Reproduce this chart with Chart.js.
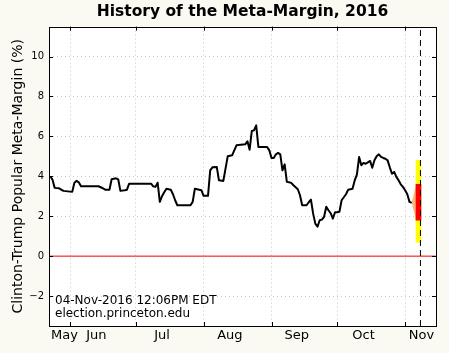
<!DOCTYPE html>
<html>
<head>
<meta charset="utf-8">
<script src="https://cdn.jsdelivr.net/npm/chart.js@4.4.0/dist/chart.umd.min.js"></script>
<style>
  html, body { margin: 0; padding: 0; background: #fbfaf2; }
  #wrap { width: 449px; height: 353px; }
</style>
</head>
<body>
<div id="wrap"><canvas id="metaChart" width="449" height="353"></canvas></div>
<script>
// Meta-Margin history, 2016 (Clinton minus Trump, percent)
const dates = [
  '5/23', '5/24', '5/25', '5/27', '5/29', '6/2', '6/3', '6/4', '6/5', '6/6',
  '6/14', '6/15', '6/16', '6/17', '6/19', '6/20', '6/22', '6/23', '6/24', '6/26',
  '6/27', '6/28', '7/8', '7/9', '7/10', '7/11', '7/12', '7/13', '7/14', '7/15',
  '7/17', '7/18', '7/19', '7/20', '7/26', '7/27', '7/28', '7/30', '7/31', '8/1',
  '8/3', '8/4', '8/5', '8/7', '8/8', '8/10', '8/12', '8/14', '8/16', '8/20',
  '8/21', '8/22', '8/23', '8/24', '8/25', '8/26', '8/30', '8/31', '9/1', '9/2',
  '9/3', '9/4', '9/5', '9/6', '9/7', '9/8', '9/9', '9/10', '9/11', '9/12',
  '9/13', '9/14', '9/15', '9/17', '9/18', '9/19', '9/20', '9/21', '9/22', '9/23',
  '9/24', '9/25', '9/26', '9/27', '9/28', '9/29', '9/30', '10/1', '10/2', '10/3',
  '10/4', '10/5', '10/6', '10/8', '10/9', '10/10', '10/11', '10/12', '10/13', '10/14',
  '10/15', '10/16', '10/17', '10/18', '10/19', '10/20', '10/21', '10/22', '10/23', '10/24',
  '10/25', '10/26', '10/27', '10/28', '10/29', '10/30', '10/31', '11/1', '11/2', '11/3',
  '11/4'
];
const margins = [
  4.0, 3.83, 3.42, 3.4, 3.27, 3.22, 3.68, 3.77, 3.7, 3.5,
  3.5, 3.45, 3.4, 3.33, 3.33, 3.85, 3.9, 3.85, 3.27, 3.3,
  3.33, 3.63, 3.63, 3.5, 3.47, 3.68, 2.72, 3.0, 3.2, 3.38,
  3.33, 3.1, 2.8, 2.55, 2.55, 2.72, 3.38, 3.33, 3.3, 3.02,
  3.02, 4.3, 4.45, 4.47, 3.8, 3.77, 5.0, 5.05, 5.55, 5.6,
  5.75, 5.33, 6.27, 6.3, 6.55, 5.47, 5.47, 5.3, 4.92, 4.92,
  5.1, 5.17, 5.1, 4.3, 4.6, 3.72, 3.7, 3.67, 3.55, 3.45,
  3.35, 3.05, 2.55, 2.55, 2.7, 2.83, 2.13, 1.63, 1.47, 1.8,
  1.83, 1.97, 2.47, 2.3, 2.15, 1.88, 2.2, 2.2, 2.22, 2.8,
  2.95, 3.1, 3.33, 3.38, 3.8, 4.1, 4.97, 4.55, 4.67, 4.63,
  4.7, 4.77, 4.43, 4.8, 5.0, 5.1, 4.97, 4.92, 4.88, 4.8,
  4.45, 4.13, 4.22, 3.97, 3.8, 3.6, 3.47, 3.3, 3.1, 2.72,
  2.67
];

// election-day forecast bands
const band95 = [0.7, 4.8];   // yellow
const band68 = [1.8, 3.6];   // red
const electionDate = '11/8';

const yTicks = [-2, 0, 2, 4, 6, 8, 10];
const monthStarts = ['6/1', '7/1', '8/1', '9/1', '10/1', '11/1'];
const monthLabels = ['May', 'Jun', 'Jul', 'Aug', 'Sep', 'Oct', 'Nov'];
const monthLabelDays = [150.5, 165, 195, 226, 256.5, 287, 313.5];

const xStart = 143.4, xEnd = 320.1;
const yMin = -3.5, yMax = 11.5;
const stampLines = ['04-Nov-2016 12:06PM EDT', 'election.princeton.edu'];

function dayOfYear(s) {
  const [m, d] = s.split('/').map(Number);
  return (Date.UTC(2016, m - 1, d) - Date.UTC(2016, 0, 1)) / 864e5 + 1;
}

const electionDay = dayOfYear(electionDate);
const bandDay = electionDay - 0.9;
const bandLeft = bandDay - 1.1;
const lastDay = dayOfYear(dates[dates.length - 1]);
const lastVal = margins[margins.length - 1];

Chart.defaults.font.family = 'DejaVu Sans';
Chart.defaults.color = '#000';

const framePlugin = {
  id: 'frame',
  beforeDraw(chart) {
    const {ctx, chartArea: a} = chart;
    ctx.save();
    ctx.fillStyle = '#ffffff';
    ctx.fillRect(a.left, a.top, a.right - a.left, a.bottom - a.top);
    ctx.restore();
  },
  afterDatasetsDraw(chart) {
    const {ctx, chartArea: a, scales} = chart;
    ctx.save();
    ctx.strokeStyle = '#000';
    ctx.lineWidth = 1;
    ctx.beginPath();
    yTicks.forEach(v => {
      const p = Math.round(scales.y.getPixelForValue(v)) + 0.5;
      ctx.moveTo(a.left, p); ctx.lineTo(a.left + 4, p);
      ctx.moveTo(a.right, p); ctx.lineTo(a.right - 4, p);
    });
    monthStarts.forEach(d => {
      const p = Math.round(scales.x.getPixelForValue(dayOfYear(d))) + 0.5;
      ctx.moveTo(p, a.bottom); ctx.lineTo(p, a.bottom - 4);
      ctx.moveTo(p, a.top); ctx.lineTo(p, a.top + 4);
    });
    ctx.stroke();
    ctx.strokeRect(Math.round(a.left) + 0.5, Math.round(a.top) + 0.5,
      Math.round(a.right - a.left), Math.round(a.bottom - a.top));
    ctx.fillStyle = '#000';
    ctx.font = '12px "DejaVu Sans"';
    ctx.textBaseline = 'alphabetic';
    ctx.textAlign = 'left';
    ctx.fillText(stampLines[0], a.left + 6, a.bottom - 22);
    ctx.fillText(stampLines[1], a.left + 6, a.bottom - 9);
    ctx.restore();
  }
};

const ctx = document.getElementById('metaChart').getContext('2d');
new Chart(ctx, {
  type: 'line',
  data: {
    datasets: [
      {
        label: 'Election day',
        data: [{x: electionDay, y: yMin}, {x: electionDay, y: yMax}],
        borderColor: '#000', borderWidth: 1, borderDash: [6, 4],
        pointRadius: 0, order: 0
      },
      {
        label: 'Meta-Margin',
        data: dates.map((d, i) => ({x: dayOfYear(d), y: margins[i]})),
        borderColor: '#000', borderWidth: 2, pointRadius: 0, tension: 0,
        borderJoinStyle: 'round', order: 1
      },
      {
        type: 'bar', label: '68%',
        data: [{x: bandDay, y: band68}],
        backgroundColor: '#ff0000', barThickness: 5, grouped: false, order: 2
      },
      {
        type: 'bar', label: '95%',
        data: [{x: bandDay, y: band95}],
        backgroundColor: '#ffff00', barThickness: 5, grouped: false, order: 3
      },
      {
        label: 'fan top',
        data: [{x: lastDay, y: lastVal}, {x: bandLeft, y: band68[1]}],
        borderColor: 'rgba(0,0,0,0)', borderWidth: 0, pointRadius: 0, fill: 5,
        backgroundColor: 'rgba(246, 150, 90, 0.7)', order: 4
      },
      {
        label: 'fan bottom',
        data: [{x: lastDay, y: lastVal}, {x: bandLeft, y: band68[0]}],
        borderColor: 'rgba(0,0,0,0)', borderWidth: 0, pointRadius: 0, order: 5
      },
      {
        label: 'zero',
        data: [{x: xStart, y: 0}, {x: xEnd, y: 0}],
        borderColor: '#ff0000', borderWidth: 1, pointRadius: 0, order: 6
      }
    ]
  },
  options: {
    responsive: false,
    animation: false,
    layout: { padding: { left: 0, right: 13, top: 0, bottom: 0 } },
    plugins: {
      legend: { display: false },
      tooltip: { enabled: false },
      filler: { propagate: false },
      title: {
        display: true,
        text: 'History of the Meta-Margin, 2016',
        font: { size: 15.5, weight: 'bold' },
        color: '#000',
        padding: { top: 3, bottom: 5 },
        fullSize: false
      }
    },
    scales: {
      x: {
        type: 'linear', min: xStart, max: xEnd, offset: false,
        afterBuildTicks: s => { s.ticks = monthStarts.map(d => ({value: dayOfYear(d)})); },
        afterFit: s => { s.height = 0; },
        ticks: { display: false },
        grid: { color: '#c8c8c8', drawTicks: false, offset: false },
        border: { display: false, dash: [1, 3] }
      },
      xl: {
        type: 'linear', position: 'bottom', min: xStart, max: xEnd, offset: false,
        afterBuildTicks: s => { s.ticks = monthLabelDays.map(v => ({value: v})); },
        afterFit: s => { s.height = 27; },
        ticks: {
          callback: (v, i) => monthLabels[i],
          font: { size: 13 }, padding: 2, maxRotation: 0, autoSkip: false
        },
        grid: { display: false, drawTicks: false, offset: false },
        border: { display: false }
      },
      y: {
        min: yMin, max: yMax,
        afterBuildTicks: s => { s.ticks = yTicks.map(v => ({value: v})); },
        afterFit: s => { s.width = 49; },
        ticks: {
          font: { size: 10 }, padding: 5,
          callback: v => v < 0 ? '\u2212' + Math.abs(v) : String(v)
        },
        grid: { color: '#c8c8c8', drawTicks: false },
        border: { display: false, dash: [1, 3] },
        title: {
          display: true,
          text: 'Clinton-Trump Popular Meta-Margin (%)',
          font: { size: 14 },
          color: '#000',
          padding: { top: 10, bottom: 0 }
        }
      }
    }
  },
  plugins: [framePlugin]
});
</script>
</body>
</html>
